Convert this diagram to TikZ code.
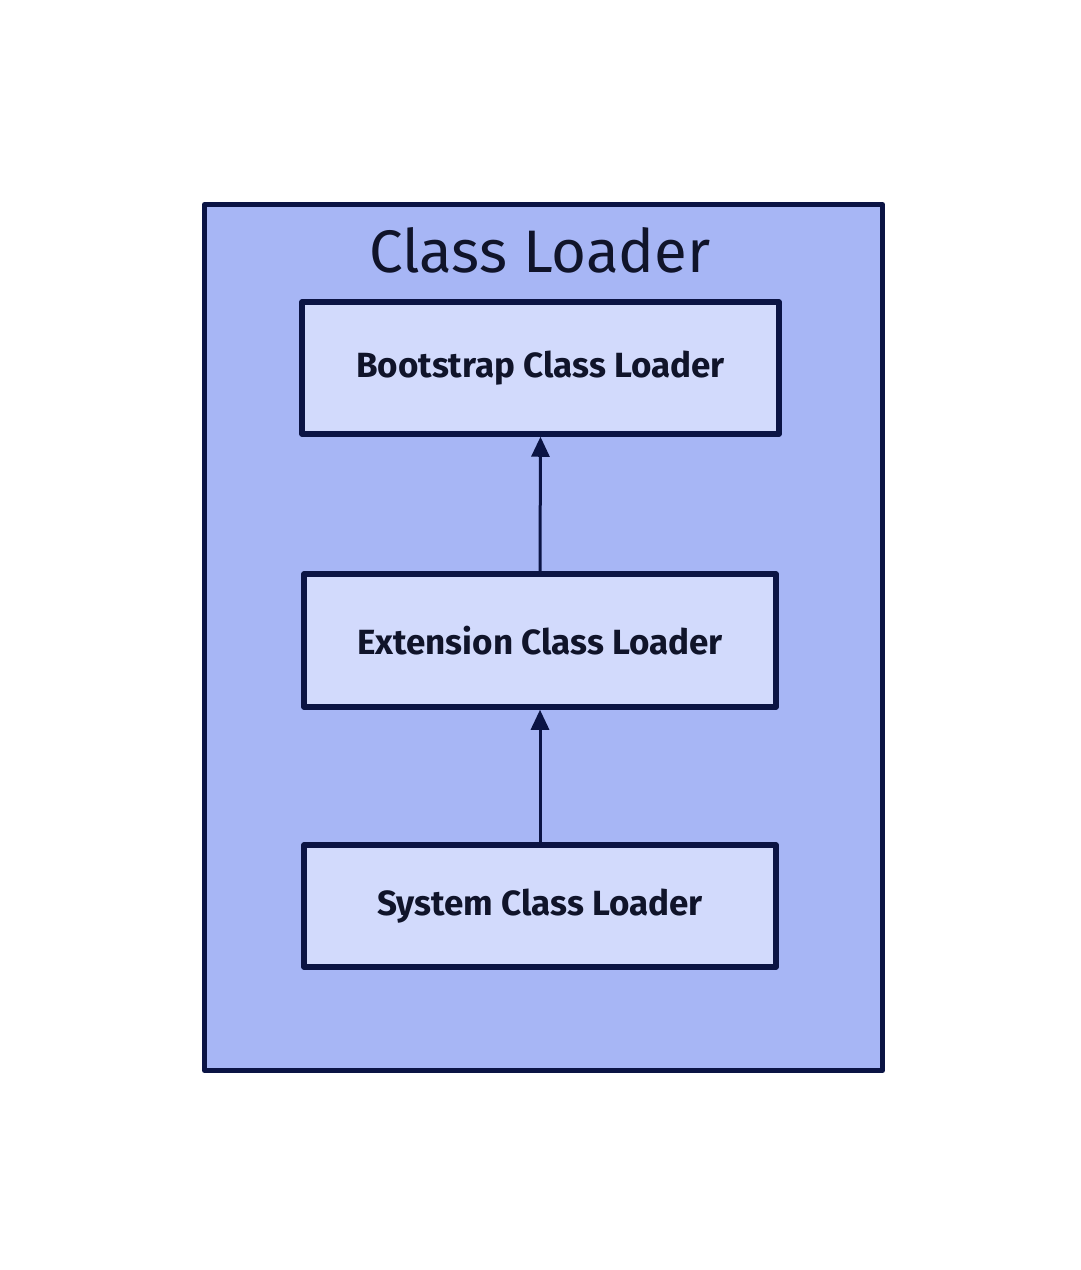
\documentclass[tikz,border=0pt]{standalone}
\usepackage{fontspec}
\setmainfont{Fira Sans}
\usetikzlibrary{arrows.meta}
\definecolor{stroke}{HTML}{0B1444}
\definecolor{textcol}{HTML}{10142A}
\definecolor{outerfill}{HTML}{A7B6F5}
\definecolor{innerfill}{HTML}{D2DAFC}
\tikzset{
  outerbox/.style={draw=stroke, fill=outerfill, line width=5pt, line join=round},
  loaderbox/.style={draw=stroke, fill=innerfill, line width=5.5pt, line join=round, font=\fontsize{35}{40}\selectfont\bfseries, text=textcol},
  uparrow/.style={draw=stroke, line width=3pt, -{Triangle[length=20pt,width=18pt]}}
}
\begin{document}
\begin{tikzpicture}[x=1pt,y=-1pt]
\useasboundingbox (0,0) rectangle (1080,1270);
\node[outerbox, minimum width=678pt, minimum height=866pt, anchor=north west] (outer) at (202,202) {};
\node[text=textcol, font=\fontsize{60}{70}\selectfont] (title) at (540,250) {Class Loader};
\node[loaderbox, minimum width=477pt, minimum height=132pt] (boot) at (540.5,368) {Bootstrap Class Loader};
\node[loaderbox, minimum width=472pt, minimum height=133pt] (ext) at (540,640.5) {Extension Class Loader};
\node[loaderbox, minimum width=472pt, minimum height=122pt] (sys) at (540,906) {System Class Loader};
\draw[uparrow] (ext.north) -- (boot.south);
\draw[uparrow] (sys.north) -- (ext.south);
\end{tikzpicture}
\end{document}
